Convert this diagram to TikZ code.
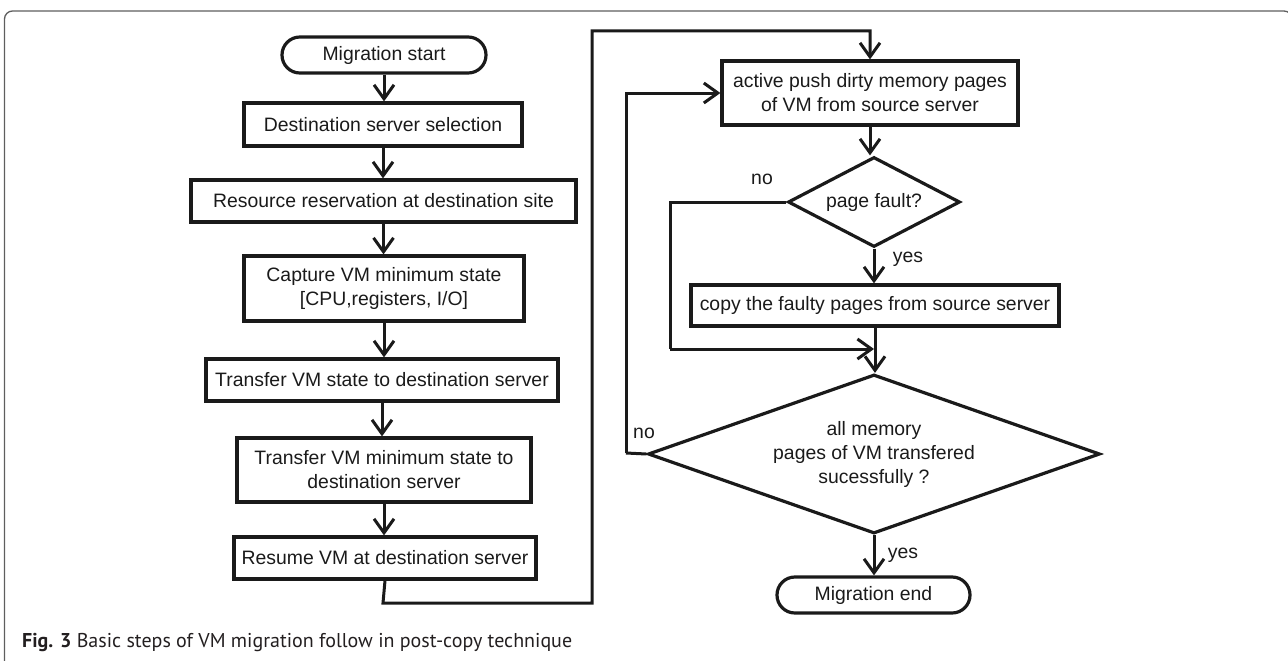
\documentclass[tikz,border=0pt]{standalone}
\usepackage{fontspec}
\setmainfont{Liberation Sans}
\newfontfamily\capfont{PT Sans}
\usetikzlibrary{arrows.meta,shapes.geometric}
\definecolor{ink}{HTML}{1A1A1A}
\definecolor{framegray}{HTML}{5E5E5E}
\definecolor{captext}{HTML}{231F20}

\begin{document}
\begin{tikzpicture}[x=1pt,y=-1pt,
  every node/.style={font=\fontsize{19.4}{24}\selectfont, text=ink},
  box/.style={draw=ink, line width=3.2pt, rectangle, inner sep=0pt, align=center},
  term/.style={box, rounded corners=17.9pt},
  decision/.style={draw=ink, line width=3.2pt, diamond, inner sep=0pt, align=center},
  flow/.style={draw=ink, line width=3pt, -{Straight Barb[length=14pt,width=20pt]}},
  link/.style={draw=ink, line width=3pt},
  tag/.style={inner sep=0pt},
]
\useasboundingbox (0,0) rectangle (1288,661);

% page frame, open to the right and bottom
\begin{scope}
  \clip (0,0) rectangle (1288,661);
  \draw[framegray, line width=1.3pt, rounded corners=8pt]
    (4.5,720) -- (4.5,11) -- (1292,11) -- (1292,720);
\end{scope}

% left column: preparation steps
\node[term, minimum width=204pt, minimum height=36pt] (ms) at (384,55) {Migration start};
\node[box, minimum width=278pt, minimum height=43pt] (d1) at (383,124.5) {Destination server selection};
\node[box, minimum width=385pt, minimum height=42pt] (d2) at (383.5,201) {Resource reservation at destination site};
\node[box, minimum width=280pt, minimum height=65pt] (d3) at (384,288.5) {Capture VM minimum state\\{[CPU,registers, I/O]}};
\node[box, minimum width=352pt, minimum height=42pt] (d4) at (382,380) {Transfer VM state to destination server};
\node[box, minimum width=294pt, minimum height=64pt] (d5) at (384,470) {Transfer VM minimum state to\\destination server};
\node[box, minimum width=302pt, minimum height=42pt] (d6) at (385,558) {Resume VM at destination server};

% right column: page transfer loop
\node[box, minimum width=296pt, minimum height=64pt] (r1) at (870,93) {active push dirty memory pages\\of VM from source server};
\node[decision, shape aspect=1.91, minimum width=172pt, minimum height=90pt] (q1) at (874,202) {page fault?};
\node[box, minimum width=368pt, minimum height=41pt] (r2) at (875,305.5) {copy the faulty pages from source server};
\node[decision, shape aspect=2.84, minimum width=452pt, minimum height=159pt] (q2) at (874,454) {all memory\\pages of VM transfered\\sucessfully ?};
\node[term, minimum width=193pt, minimum height=36pt] (me) at (873.5,595) {Migration end};

% branch labels
\node[tag] (no1) at (762,179) {no};
\node[tag] (yes1) at (908,259) {yes};
\node[tag] (no2) at (644,433) {no};
\node[tag] (yes2) at (903,555) {yes};

% routing points
\coordinate (c1) at (383,603);
\coordinate (c2) at (592,603);
\coordinate (c3) at (592,31);
\coordinate (n1) at (670,202);
\coordinate (n2) at (670,349);
\coordinate (j1) at (874,349);
\coordinate (n3) at (626,453);

% left column connectors
\draw[flow] (ms.south) -- (ms.south |- d1.north);
\draw[flow] (d1.south) -- (d1.south |- d2.north);
\draw[flow] (d2.south) -- (d2.south |- d3.north);
\draw[flow] (d3.south) -- (d3.south |- d4.north);
\draw[flow] (d4.south) -- (d4.south |- d5.north);
\draw[flow] (d5.south) -- (d5.south |- d6.north);

% hand-over to the right column
\draw[flow] (d6.south) -- (c1) -- (c2) -- (c3) -| (r1.north);

% right column connectors
\draw[flow] (r1.south) -- (r1.south |- q1.north);
\draw[flow] (q1.south) -- (q1.south |- r2.north);
\draw[flow] (r2.south) -- (r2.south |- q2.north);
\draw[flow] (q2.south) -- (q2.south |- me.north);
\draw[link] (q1.west) -- (n1) -- (n2);
\draw[flow] (n2) -- (j1);
\draw[link] (q2.west) -- (n3);
\draw[flow] (n3) -- (n3 |- r1.west) -- (r1.west);

% caption
\node[anchor=base west, inner sep=0pt, text=captext, font=\capfont\fontsize{20}{24}\selectfont] (cap) at (22,647)
  {\textbf{Fig. 3} Basic steps of VM migration follow in post-copy technique};
\end{tikzpicture}
\end{document}
